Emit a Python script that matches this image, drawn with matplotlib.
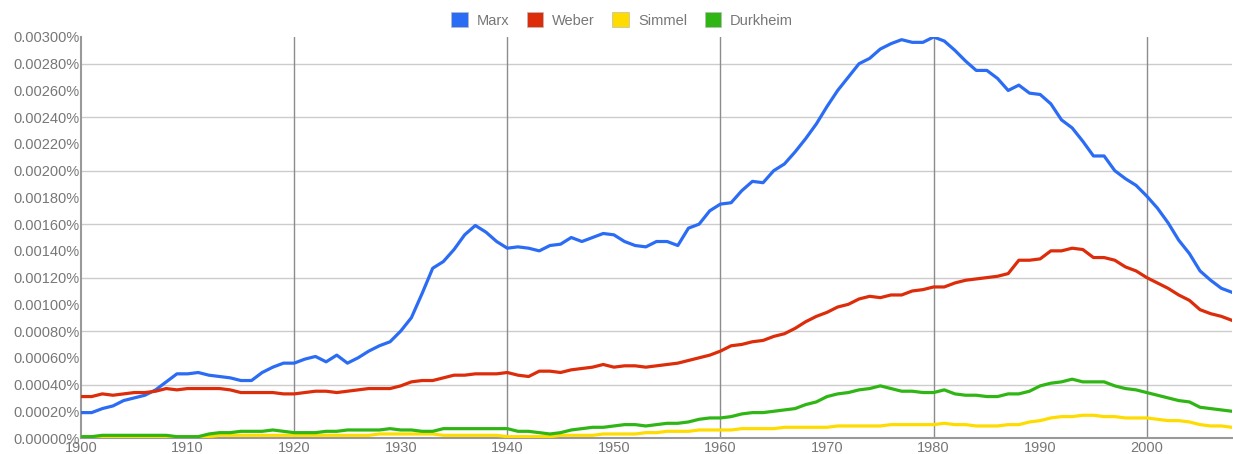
import matplotlib.pyplot as plt
from matplotlib.patches import Patch
import numpy as np

plt.rcParams['font.family'] = ['Liberation Sans', 'DejaVu Sans']

years = np.arange(1900, 2009)

# wartości w procentach (0.00300 = 0.00300%)
marx = [
    0.00019, 0.00019, 0.00022, 0.00024, 0.00028, 0.00030, 0.00032, 0.00036, 0.00042, 0.00048,
    0.00048, 0.00049, 0.00047, 0.00046, 0.00045, 0.00043, 0.00043, 0.00049, 0.00053, 0.00056,
    0.00056, 0.00059, 0.00061, 0.00057, 0.00062, 0.00056, 0.00060, 0.00065, 0.00069, 0.00072,
    0.00080, 0.00090, 0.00108, 0.00127, 0.00132, 0.00141, 0.00152, 0.00159, 0.00154, 0.00147,
    0.00142, 0.00143, 0.00142, 0.00140, 0.00144, 0.00145, 0.00150, 0.00147, 0.00150, 0.00153,
    0.00152, 0.00147, 0.00144, 0.00143, 0.00147, 0.00147, 0.00144, 0.00157, 0.00160, 0.00170,
    0.00175, 0.00176, 0.00185, 0.00192, 0.00191, 0.00200, 0.00205, 0.00214, 0.00224, 0.00235,
    0.00248, 0.00260, 0.00270, 0.00280, 0.00284, 0.00291, 0.00295, 0.00298, 0.00296, 0.00296,
    0.00300, 0.00297, 0.00290, 0.00282, 0.00275, 0.00275, 0.00269, 0.00260, 0.00264, 0.00258,
    0.00257, 0.00250, 0.00238, 0.00232, 0.00222, 0.00211, 0.00211, 0.00200, 0.00194, 0.00189,
    0.00181, 0.00172, 0.00161, 0.00148, 0.00138, 0.00125, 0.00118, 0.00112, 0.00109,
]
weber = [
    0.00031, 0.00031, 0.00033, 0.00032, 0.00033, 0.00034, 0.00034, 0.00035, 0.00037, 0.00036,
    0.00037, 0.00037, 0.00037, 0.00037, 0.00036, 0.00034, 0.00034, 0.00034, 0.00034, 0.00033,
    0.00033, 0.00034, 0.00035, 0.00035, 0.00034, 0.00035, 0.00036, 0.00037, 0.00037, 0.00037,
    0.00039, 0.00042, 0.00043, 0.00043, 0.00045, 0.00047, 0.00047, 0.00048, 0.00048, 0.00048,
    0.00049, 0.00047, 0.00046, 0.00050, 0.00050, 0.00049, 0.00051, 0.00052, 0.00053, 0.00055,
    0.00053, 0.00054, 0.00054, 0.00053, 0.00054, 0.00055, 0.00056, 0.00058, 0.00060, 0.00062,
    0.00065, 0.00069, 0.00070, 0.00072, 0.00073, 0.00076, 0.00078, 0.00082, 0.00087, 0.00091,
    0.00094, 0.00098, 0.00100, 0.00104, 0.00106, 0.00105, 0.00107, 0.00107, 0.00110, 0.00111,
    0.00113, 0.00113, 0.00116, 0.00118, 0.00119, 0.00120, 0.00121, 0.00123, 0.00133, 0.00133,
    0.00134, 0.00140, 0.00140, 0.00142, 0.00141, 0.00135, 0.00135, 0.00133, 0.00128, 0.00125,
    0.00120, 0.00116, 0.00112, 0.00107, 0.00103, 0.00096, 0.00093, 0.00091, 0.00088,
]
simmel = [
    0.00001, 0.00001, 0.00001, 0.00001, 0.00001, 0.00001, 0.00001, 0.00001, 0.00001, 0.00001,
    0.00001, 0.00001, 0.00001, 0.00002, 0.00002, 0.00002, 0.00002, 0.00002, 0.00002, 0.00002,
    0.00002, 0.00002, 0.00002, 0.00002, 0.00002, 0.00002, 0.00002, 0.00002, 0.00003, 0.00003,
    0.00003, 0.00003, 0.00003, 0.00003, 0.00002, 0.00002, 0.00002, 0.00002, 0.00002, 0.00002,
    0.00001, 0.00001, 0.00001, 0.00001, 0.00001, 0.00002, 0.00002, 0.00002, 0.00002, 0.00003,
    0.00003, 0.00003, 0.00003, 0.00004, 0.00004, 0.00005, 0.00005, 0.00005, 0.00006, 0.00006,
    0.00006, 0.00006, 0.00007, 0.00007, 0.00007, 0.00007, 0.00008, 0.00008, 0.00008, 0.00008,
    0.00008, 0.00009, 0.00009, 0.00009, 0.00009, 0.00009, 0.00010, 0.00010, 0.00010, 0.00010,
    0.00010, 0.00011, 0.00010, 0.00010, 0.00009, 0.00009, 0.00009, 0.00010, 0.00010, 0.00012,
    0.00013, 0.00015, 0.00016, 0.00016, 0.00017, 0.00017, 0.00016, 0.00016, 0.00015, 0.00015,
    0.00015, 0.00014, 0.00013, 0.00013, 0.00012, 0.00010, 0.00009, 0.00009, 0.00008,
]
durkheim = [
    0.00001, 0.00001, 0.00002, 0.00002, 0.00002, 0.00002, 0.00002, 0.00002, 0.00002, 0.00001,
    0.00001, 0.00001, 0.00003, 0.00004, 0.00004, 0.00005, 0.00005, 0.00005, 0.00006, 0.00005,
    0.00004, 0.00004, 0.00004, 0.00005, 0.00005, 0.00006, 0.00006, 0.00006, 0.00006, 0.00007,
    0.00006, 0.00006, 0.00005, 0.00005, 0.00007, 0.00007, 0.00007, 0.00007, 0.00007, 0.00007,
    0.00007, 0.00005, 0.00005, 0.00004, 0.00003, 0.00004, 0.00006, 0.00007, 0.00008, 0.00008,
    0.00009, 0.00010, 0.00010, 0.00009, 0.00010, 0.00011, 0.00011, 0.00012, 0.00014, 0.00015,
    0.00015, 0.00016, 0.00018, 0.00019, 0.00019, 0.00020, 0.00021, 0.00022, 0.00025, 0.00027,
    0.00031, 0.00033, 0.00034, 0.00036, 0.00037, 0.00039, 0.00037, 0.00035, 0.00035, 0.00034,
    0.00034, 0.00036, 0.00033, 0.00032, 0.00032, 0.00031, 0.00031, 0.00033, 0.00033, 0.00035,
    0.00039, 0.00041, 0.00042, 0.00044, 0.00042, 0.00042, 0.00042, 0.00039, 0.00037, 0.00036,
    0.00034, 0.00032, 0.00030, 0.00028, 0.00027, 0.00023, 0.00022, 0.00021, 0.00020,
]

names = ['Marx', 'Weber', 'Simmel', 'Durkheim']
colors = ['#2b6cf5', '#dd2c0a', '#ffdc00', '#2fb615']
series = [marx, weber, simmel, durkheim]

fig = plt.figure(figsize=(12.33, 4.54), dpi=100)
ax = fig.add_axes([81 / 1233, 16 / 454, 1151 / 1233, 401 / 454])

# siatka
for yv in np.arange(0.0004, 0.0030, 0.0004):
    ax.axhline(yv, color='#cccccc', lw=1.0, zorder=1)
for xv in range(1920, 2001, 20):
    ax.axvline(xv, color='#8c8c8c', lw=1.0, zorder=1)

for vals, col, name in zip(series, colors, names):
    ax.plot(years, vals, color=col, lw=2.3, label=name, zorder=3)

ax.set_xlim(1900, 2008)
ax.set_ylim(0, 0.0030)
ax.set_xticks(range(1900, 2001, 10))
ax.set_yticks(np.arange(0, 0.00301, 0.0002))
ax.set_yticklabels([f'{v:.5f}%' for v in np.arange(0, 0.00301, 0.0002)])
ax.tick_params(length=0, colors='#777777', labelsize=10.5, pad=1)
ax.tick_params(axis='x', pad=2)

for s in ['top', 'right']:
    ax.spines[s].set_visible(False)
ax.spines['left'].set_color('#999999')
ax.spines['bottom'].set_color('#999999')
ax.spines['left'].set_linewidth(1.5)
ax.spines['bottom'].set_linewidth(1.5)

handles = [Patch(facecolor=c, edgecolor='#bbbbbb', lw=0.5) for c in colors]
leg = fig.legend(handles, names, loc='center', bbox_to_anchor=(622 / 1233, 1 - 20 / 454),
                 ncol=4, frameon=False, fontsize=10.5, handlelength=1.15, handleheight=1.15,
                 handletextpad=0.6, columnspacing=1.2)
for t in leg.get_texts():
    t.set_color('#777777')

fig.savefig('out.png', dpi=100)
